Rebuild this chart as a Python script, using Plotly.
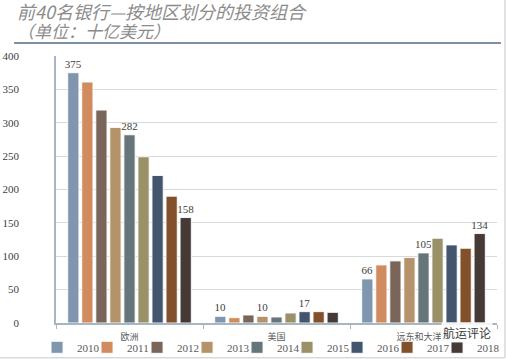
import plotly.graph_objects as go

categories = ["欧洲", "美国", "远东和大洋洲"]
years = ["2010", "2011", "2012", "2013", "2014", "2015", "2016", "2017", "2018"]
values = {
    "2010": [375, 10, 66],
    "2011": [361, 8, 87],
    "2012": [319, 12, 93],
    "2013": [293, 10, 98],
    "2014": [282, 9, 105],
    "2015": [249, 15, 127],
    "2016": [221, 17, 117],
    "2017": [190, 17, 112],
    "2018": [158, 16, 134],
}
# which bars carry a value label in the reference
labelled = {
    "2010": [True, True, True],
    "2013": [False, True, False],
    "2014": [True, False, True],
    "2016": [False, True, False],
    "2018": [True, False, True],
}
colors = ["#7F96AE", "#D08C5E", "#7A655A", "#B4926A", "#66757A",
          "#9A9168", "#44566E", "#82502A", "#453A36"]

title_main = "前40名银行—按地区划分的投资组合"
title_unit = "（单位：十亿美元）"

fig = go.Figure()
for yr, col in zip(years, colors):
    vals = values[yr]
    mask = labelled.get(yr, [False] * len(vals))
    txt = [str(v) if m else "" for v, m in zip(vals, mask)]
    fig.add_trace(go.Bar(
        name=yr, x=categories, y=vals, marker_color=col,
        marker_line=dict(color="rgba(255,255,255,0.9)", width=1),
        text=txt, textposition="outside", cliponaxis=False, constraintext="none",
        textfont=dict(family="Liberation Serif", size=11, color="#404040"),
    ))

fig.update_layout(
    width=506, height=359,
    margin=dict(l=56, r=9, t=56, b=36, autoexpand=False),
    paper_bgcolor="white", plot_bgcolor="white",
    barmode="group", bargap=0.14, bargroupgap=0.2,
    showlegend=True,
    legend=dict(orientation="h", x=-0.043, xanchor="left", y=-0.091, yanchor="middle",
                font=dict(family="Liberation Serif", size=11, color="#595959"),
                entrywidth=5, entrywidthmode="pixels", itemwidth=30,
                bgcolor="rgba(0,0,0,0)", traceorder="normal", tracegroupgap=0),
)
fig.update_yaxes(range=[0, 400], dtick=50, showgrid=True, gridcolor="#D9D9D9", gridwidth=1,
                 showline=True, linecolor="#A7B6C4", linewidth=1.5, automargin=False,
                 ticks="", tickfont=dict(family="Liberation Serif", size=11, color="#404040"),
                 ticklabelstandoff=33, zeroline=False)
fig.update_xaxes(showline=True, linecolor="#A7B6C4", linewidth=1.5, automargin=False,
                 ticks="outside", tickson="boundaries", ticklen=4, tickcolor="#A7B6C4",
                 tickfont=dict(family="Noto Sans CJK SC", size=9, color="#595959"),
                 ticklabelstandoff=4)

# two-line title (one text block, tight line spacing)
fig.add_annotation(
    text=("<span style='font-size:18px'>" + title_main + "</span><br>"
          "<span style='font-size:17px'>" + title_unit + "</span>"),
    xref="paper", yref="paper", x=-0.092, y=1.134, xanchor="left", yanchor="middle",
    align="left", showarrow=False,
    font=dict(family="Noto Sans CJK SC", size=14.5, color="#8C8C8C", style="italic"))
# rule under title
fig.add_shape(type="line", xref="paper", yref="paper", x0=-0.095, x1=1.009, y0=1.049, y1=1.049,
              line=dict(color="#7C8FA3", width=2))
# frame edges on right and bottom
fig.add_shape(type="line", xref="paper", yref="paper", x0=1.018, x1=1.018, y0=-0.13, y1=1.25,
              line=dict(color="#D9D9D9", width=1.5))
fig.add_shape(type="line", xref="paper", yref="paper", x0=-0.13, x1=1.018, y0=-0.13, y1=-0.13,
              line=dict(color="#D9D9D9", width=1.5))
# watermark
fig.add_annotation(text="航运评论", xref="paper", yref="paper", x=0.99, y=-0.035,
                   xanchor="right", yanchor="middle", showarrow=False,
                   bgcolor="rgba(255,255,255,0.85)",
                   font=dict(family="Noto Sans CJK SC", size=12, color="#3A3A3A"))

post = """
document.body.style.margin='0';
document.querySelectorAll('.legend .scrollbox, .legend [clip-path]').forEach(function(g){
  g.removeAttribute('clip-path');
});
"""
fig.write_html("out.html", config={"displayModeBar": False}, post_script=post)
